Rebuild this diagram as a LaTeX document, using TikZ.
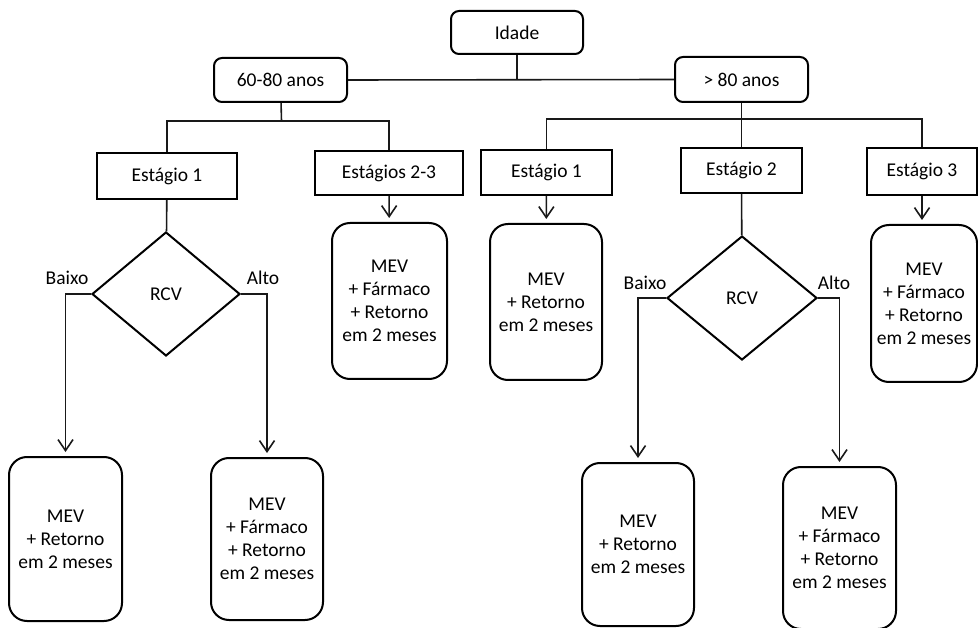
\documentclass[tikz,border=0pt]{standalone}
\usepackage{fontspec}
\setmainfont{Carlito}
\usepackage{tikz}
\usetikzlibrary{shapes,shapes.geometric,arrows,arrows.meta,positioning,fit}

\begin{document}
\begin{tikzpicture}[x=1pt,y=-1pt]
			\tikzstyle{Age}		= [draw, rounded corners=8pt, line width=2pt, inner sep=0pt, font=\fontsize{19.5}{23}\selectfont]
			\tikzstyle{Stage}	= [draw, line width=2pt, inner sep=0pt, font=\fontsize{19.5}{23}\selectfont]
			\tikzstyle{Risk}	= [draw, diamond, line width=2pt, inner sep=0pt, font=\fontsize{19.5}{23}\selectfont]
			\tikzstyle{Plan}	= [draw, rounded corners=18pt, line width=2pt, inner sep=0pt, align=center, font=\fontsize{19.5}{23}\selectfont]
			\tikzstyle{Tag}		= [inner sep=0pt, font=\fontsize{19.5}{23}\selectfont]
			\tikzstyle{Link}	= [line width=1.6pt, black!90]
			\tikzstyle{Go}		= [line width=1.6pt, black!90, -{Straight Barb[length=11pt,width=15pt]}, shorten >=4pt]

			\useasboundingbox (0,0) rectangle (978,628);

			% idade
			\node (idade) at (517,32.5) [Age, minimum width=132pt, minimum height=43pt] {Idade};
			\node (g1) at (280.5,80) [Age, minimum width=133pt, minimum height=44pt] {60-80 anos};
			\node (g2) at (741.5,79.5) [Age, minimum width=133pt, minimum height=45pt] {> 80 anos};

			% estagios
			\node (s1a) at (167,176) [Stage, minimum width=140pt, minimum height=46pt] {Estágio 1};
			\node (s23) at (389,173) [Stage, minimum width=148pt, minimum height=44pt] {Estágios 2-3};
			\node (s1b) at (546.5,172.5) [Stage, minimum width=131pt, minimum height=45pt] {Estágio 1};
			\node (s2) at (741.5,170.5) [Stage, minimum width=121pt, minimum height=45pt] {Estágio 2};
			\node (s3) at (922,171.5) [Stage, minimum width=110pt, minimum height=47pt] {Estágio 3};

			% rcv
			\node (r1) at (166,294) [Risk, minimum width=148pt, minimum height=124pt] {RCV};
			\node (r2) at (742,298) [Risk, minimum width=150pt, minimum height=124pt] {RCV};

			\node (b1) at (67,278) [Tag] {Baixo};
			\node (a1) at (263,278) [Tag] {Alto};
			\node (b2) at (645,283) [Tag] {Baixo};
			\node (a2) at (834,283) [Tag] {Alto};

			% condutas
			\node (m1) at (65.5,539) [Plan, minimum width=113pt, minimum height=164pt] {MEV\\+ Retorno\\em 2 meses};
			\node (m2) at (267,539) [Plan, minimum width=112pt, minimum height=162pt] {MEV\\+ Fármaco\\+ Retorno\\em 2 meses};
			\node (m3) at (389.5,301) [Plan, minimum width=115pt, minimum height=156pt] {MEV\\+ Fármaco\\+ Retorno\\em 2 meses};
			\node (m4) at (546,302) [Plan, minimum width=112pt, minimum height=156pt] {MEV\\+ Retorno\\em 2 meses};
			\node (m5) at (924,303.5) [Plan, minimum width=106pt, minimum height=157pt] {MEV\\+ Fármaco\\+ Retorno\\em 2 meses};
			\node (m6) at (638,544.5) [Plan, minimum width=112pt, minimum height=163pt] {MEV\\+ Retorno\\em 2 meses};
			\node (m7) at (839.5,548) [Plan, minimum width=113pt, minimum height=162pt] {MEV\\+ Fármaco\\+ Retorno\\em 2 meses};

			\coordinate (j1) at (281.5,121);
			\coordinate (j2) at (741.5,119);

			\draw [-] (idade) to (idade |- g1) [Link];
			\draw [-] (g1.east) to (g2.west) [Link];
			\draw [-] (g1) to (j1) [Link];
			\draw [-] (s1a.north) |- (j1) -| (s23.north) [Link];
			\draw [-] (g2) to (s2) [Link];
			\draw [-] (s1b.north) |- (j2) -| (s3.north) [Link];

			\draw [-] (s1a) to (r1) [Link];
			\draw [-] (s2) to (r2) [Link];

			\draw (s23) to (m3) [Go];
			\draw (s1b) to (m4) [Go];
			\draw (s3.south) to (s3.south |- m5.north) [Go];

			\draw (r1.west) -| (m1.north) [Go];
			\draw (r1.east) -| (m2.north) [Go];
			\draw (r2.west) -| (m6.north) [Go];
			\draw (r2.east) -| (m7.north) [Go];

		\end{tikzpicture}
\end{document}
